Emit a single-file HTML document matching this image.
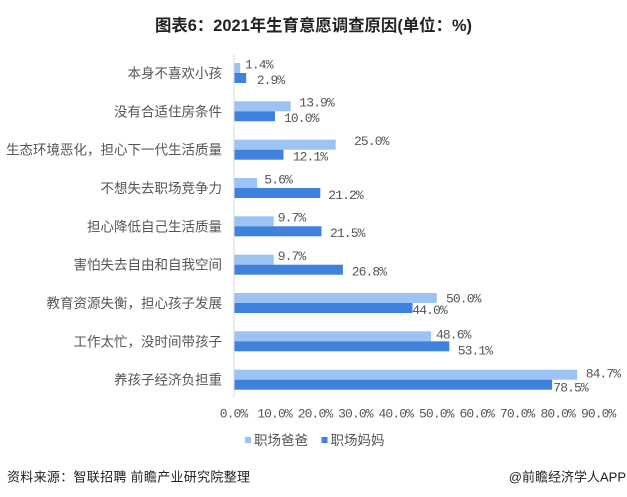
<!DOCTYPE html>
<html>
<head>
<meta charset="utf-8">
<style>
html,body{margin:0;padding:0;background:#fff;}
body{width:627px;height:497px;overflow:hidden;position:relative;}
svg{position:absolute;left:0;top:0;}
.cat{font-family:"Liberation Sans","Noto Sans CJK SC",sans-serif;font-size:13.5px;fill:#555;}
.val{font-family:"Liberation Mono","Noto Sans CJK SC",monospace;font-size:13px;letter-spacing:-0.9px;fill:#555;}
.tick{font-family:"Liberation Mono","Noto Sans CJK SC",monospace;font-size:13px;letter-spacing:-0.9px;fill:#555;}
.leg{font-family:"Liberation Sans","Noto Sans CJK SC",sans-serif;font-size:13.5px;fill:#555;}
.foot{font-family:"Liberation Sans","Noto Sans CJK SC",sans-serif;font-size:13px;fill:#222;}
.title{font-family:"Liberation Sans","Noto Sans CJK SC",sans-serif;font-size:16.5px;font-weight:bold;fill:#222;}
</style>
</head>
<body>
<svg width="627" height="497" viewBox="0 0 627 497" xmlns="http://www.w3.org/2000/svg">
<text class="title" x="155" y="31" textLength="317" lengthAdjust="spacingAndGlyphs">图表6：2021年生育意愿调查原因(单位：%)</text>

<!-- axis -->
<line x1="234" y1="54" x2="234" y2="398" stroke="#d9d9d9" stroke-width="1"/>

<!-- bars -->
<rect x="234.5" y="63" width="5.7" height="10" fill="#9DC3F5"/>
<rect x="234.5" y="73" width="11.7" height="10" fill="#3E82DD"/>
<rect x="234.5" y="101.3" width="56.2" height="10" fill="#9DC3F5"/>
<rect x="234.5" y="111.3" width="40.5" height="10" fill="#3E82DD"/>
<rect x="234.5" y="139.7" width="101.2" height="10" fill="#9DC3F5"/>
<rect x="234.5" y="149.7" width="49" height="10" fill="#3E82DD"/>
<rect x="234.5" y="178" width="22.7" height="10" fill="#9DC3F5"/>
<rect x="234.5" y="188" width="85.8" height="10" fill="#3E82DD"/>
<rect x="234.5" y="216.3" width="39.2" height="10" fill="#9DC3F5"/>
<rect x="234.5" y="226.3" width="87" height="10" fill="#3E82DD"/>
<rect x="234.5" y="254.7" width="39.2" height="10" fill="#9DC3F5"/>
<rect x="234.5" y="264.7" width="108.4" height="10" fill="#3E82DD"/>
<rect x="234.5" y="293" width="202.3" height="10" fill="#9DC3F5"/>
<rect x="234.5" y="303" width="178" height="10" fill="#3E82DD"/>
<rect x="234.5" y="331.3" width="196.6" height="10" fill="#9DC3F5"/>
<rect x="234.5" y="341.3" width="214.8" height="10" fill="#3E82DD"/>
<rect x="234.5" y="369.7" width="342.7" height="10" fill="#9DC3F5"/>
<rect x="234.5" y="379.7" width="317.6" height="10" fill="#3E82DD"/>

<!-- category labels -->
<g class="cat" text-anchor="end">
<text x="222" y="78">本身不喜欢小孩</text>
<text x="222" y="116.3">没有合适住房条件</text>
<text x="222" y="154.7">生态环境恶化，担心下一代生活质量</text>
<text x="222" y="193">不想失去职场竞争力</text>
<text x="222" y="231.3">担心降低自己生活质量</text>
<text x="222" y="269.7">害怕失去自由和自我空间</text>
<text x="222" y="308">教育资源失衡，担心孩子发展</text>
<text x="222" y="346.3">工作太忙，没时间带孩子</text>
<text x="222" y="384.7">养孩子经济负担重</text>
</g>

<!-- value labels -->
<g class="val">
<text x="245" y="68.5">1.4%</text>
<text x="256.7" y="84">2.9%</text>
<text x="299.3" y="106.5">13.9%</text>
<text x="284" y="122">10.0%</text>
<text x="354" y="145">25.0%</text>
<text x="292.7" y="160.5">12.1%</text>
<text x="264.3" y="183.5">5.6%</text>
<text x="328.3" y="199">21.2%</text>
<text x="277.7" y="221.5">9.7%</text>
<text x="330" y="237">21.5%</text>
<text x="277.7" y="260">9.7%</text>
<text x="351.7" y="275.5">26.8%</text>
<text x="446" y="302.5">50.0%</text>
<text x="412.3" y="314">44.0%</text>
<text x="436" y="338.5">48.6%</text>
<text x="457.7" y="354.5">53.1%</text>
<text x="585.7" y="377.5">84.7%</text>
<text x="553.3" y="391.5">78.5%</text>
</g>

<!-- ticks -->
<g class="tick" text-anchor="middle">
<text x="233.5" y="417.5">0.0%</text>
<text x="274.5" y="417.5">10.0%</text>
<text x="315" y="417.5">20.0%</text>
<text x="355.4" y="417.5">30.0%</text>
<text x="395.8" y="417.5">40.0%</text>
<text x="436.3" y="417.5">50.0%</text>
<text x="476.8" y="417.5">60.0%</text>
<text x="517.2" y="417.5">70.0%</text>
<text x="557.7" y="417.5">80.0%</text>
<text x="598.2" y="417.5">90.0%</text>
</g>

<!-- legend -->
<rect x="245" y="437" width="6" height="6" fill="#9DC3F5"/>
<text class="leg" x="254" y="445">职场爸爸</text>
<rect x="321.5" y="437" width="6" height="6" fill="#3E82DD"/>
<text class="leg" x="330.5" y="445">职场妈妈</text>

<!-- footer -->
<text class="foot" x="7" y="481.5" letter-spacing="0.3">资料来源：智联招聘 前瞻产业研究院整理</text>
<text class="foot" x="626" y="481.5" text-anchor="end">@前瞻经济学人APP</text>
</svg>
</body>
</html>
